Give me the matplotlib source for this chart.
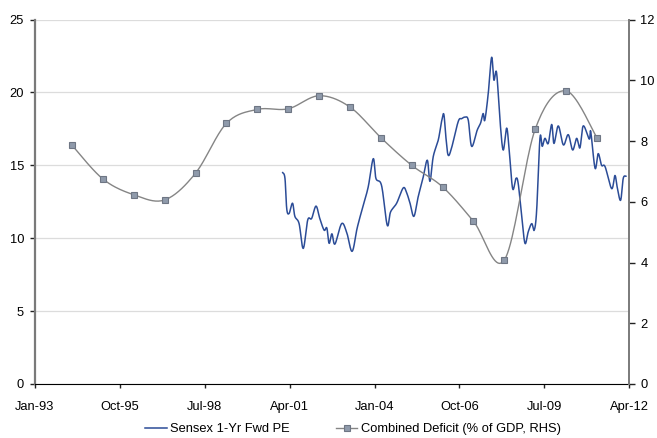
import matplotlib
matplotlib.use("Agg")
import matplotlib.pyplot as plt
import matplotlib.dates as mdates
import numpy as np
import pandas as pd

# Sensex 1-yr forward PE, turning points of the series
pe_dates = [
    "2001-01-09", "2001-02-05", "2001-02-26", "2001-03-26", "2001-05-05", "2001-06-02",
    "2001-07-22", "2001-09-09", "2001-11-01", "2001-12-17", "2002-02-07", "2002-03-24",
    "2002-05-14", "2002-06-15", "2002-07-12", "2002-08-14", "2002-09-19", "2002-12-07",
    "2003-02-05", "2003-04-10", "2003-06-09", "2003-08-12", "2003-10-17", "2003-12-16",
    "2004-01-17", "2004-03-24", "2004-05-29", "2004-07-08", "2004-09-18", "2004-12-05",
    "2005-01-15", "2005-02-23", "2005-04-10", "2005-05-31", "2005-07-22", "2005-09-15",
    "2005-10-17", "2005-11-25", "2006-01-24", "2006-03-03", "2006-03-30", "2006-04-23",
    "2006-05-20", "2006-06-30", "2006-09-16", "2006-10-27", "2006-12-05", "2007-01-13",
    "2007-02-22", "2007-04-28", "2007-06-08", "2007-07-08", "2007-07-28", "2007-09-06",
    "2007-10-16", "2007-11-12", "2007-12-14", "2008-01-23", "2008-03-01", "2008-04-11",
    "2008-05-11", "2008-06-21", "2008-07-30", "2008-08-26", "2008-10-06", "2008-11-14",
    "2008-12-23", "2009-02-02", "2009-03-03", "2009-04-01", "2009-05-10", "2009-06-06",
    "2009-07-08", "2009-08-16", "2009-09-26", "2009-10-23", "2009-12-13", "2010-02-11",
    "2010-04-10", "2010-06-01", "2010-07-18", "2010-08-26", "2010-10-04", "2010-12-14",
    "2011-01-01", "2011-02-21", "2011-03-30", "2011-05-09", "2011-06-20", "2011-09-05",
    "2011-10-14", "2011-11-10", "2011-12-20", "2012-01-20", "2012-02-21",
]
pe_values = [
    14.5, 14.1, 12.0, 11.7, 12.4, 11.5,
    11.0, 9.3, 11.25, 11.35, 12.2, 11.35,
    10.55, 10.7, 9.65, 10.3, 9.6, 11.0,
    10.4, 9.1, 10.7, 12.1, 13.5, 15.45,
    14.1, 13.6, 10.9, 11.8, 12.4, 13.45,
    13.1, 12.4, 11.5, 12.85, 14.0, 15.35,
    13.9, 15.6, 16.75, 18.0, 18.5, 16.95,
    15.7, 16.2, 18.0, 18.2, 18.3, 18.1,
    16.3, 17.4, 17.9, 18.55, 18.1, 19.9,
    22.4, 20.85, 21.35, 18.1, 16.05, 17.55,
    16.05, 13.4, 14.1, 13.75, 11.5, 9.65,
    10.45, 11.0, 10.55, 11.9, 16.85, 16.3,
    16.85, 16.5, 17.8, 16.5, 17.7, 16.4,
    17.1, 16.05, 16.85, 16.2, 17.7, 16.8,
    17.3, 14.8, 15.8, 15.0, 14.9, 13.4,
    14.3, 13.5, 12.6, 14.1, 14.25,
]

# Combined (centre + states) fiscal deficit, % of GDP, fiscal years ending March
deficit_years = list(range(1994, 2012))
deficit_values = [
    7.86, 6.75, 6.23, 6.06, 6.94, 8.58, 9.04, 9.06, 9.49,
    9.12, 8.11, 7.20, 6.49, 5.36, 4.08, 8.39, 9.65, 8.11,
]

x_ticks = ["1993-01-01", "1995-10-01", "1998-07-01", "2001-04-01",
           "2004-01-01", "2006-10-01", "2009-07-01", "2012-04-01"]


def smooth(x, y, steps=20):
    """Catmull-Rom style smoothing (Bezier segments through every point)."""
    x = np.asarray(x, float)
    y = np.asarray(y, float)
    px = np.concatenate([[x[0]], x, [x[-1]]])
    py = np.concatenate([[y[0]], y, [y[-1]]])
    t = np.linspace(0, 1, steps, endpoint=False)[:, None]
    xs, ys = [], []
    for i in range(1, len(px) - 2):
        p0 = np.array([px[i], py[i]])
        p3 = np.array([px[i + 1], py[i + 1]])
        c1 = p0 + (np.array([px[i + 1], py[i + 1]]) - np.array([px[i - 1], py[i - 1]])) / 6
        c2 = p3 - (np.array([px[i + 2], py[i + 2]]) - np.array([px[i], py[i]])) / 6
        pts = ((1 - t) ** 3) * p0 + 3 * ((1 - t) ** 2) * t * c1 + 3 * (1 - t) * t ** 2 * c2 + t ** 3 * p3
        xs.append(pts[:, 0])
        ys.append(pts[:, 1])
    xs.append([x[-1]])
    ys.append([y[-1]])
    return np.concatenate(xs), np.concatenate(ys)


plt.rcParams["font.family"] = ["Liberation Sans", "DejaVu Sans"]
plt.rcParams["font.size"] = 9.3

pe_x = mdates.date2num(pd.to_datetime(pe_dates))
def_x = mdates.date2num(pd.to_datetime([f"{y}-03-15" for y in deficit_years]))

fig = plt.figure(figsize=(6.57, 4.38), dpi=100)
ax = fig.add_axes([35 / 657, 54 / 438, 594.3 / 657, 364.5 / 438])
ax2 = ax.twinx()

blue = "#2b4c97"
grey = "#858585"

sx, sy = smooth(pe_x, pe_values)
pe_line, = ax.plot(sx, sy, color=blue, lw=1.1, label="Sensex 1-Yr Fwd PE")

dx, dy = smooth(def_x, deficit_values)
ax2.plot(dx, dy, color=grey, lw=1.0)
ax2.plot(def_x, deficit_values, ls="none", marker="s", ms=4.5,
         mfc="#8f9aab", mec="#6e7684", mew=0.8)
def_handle = plt.Line2D([], [], color=grey, lw=1.0, marker="s", ms=4.2,
                        mfc="#8f9aab", mec="#6e7684", mew=0.8,
                        label="Combined Deficit (% of GDP, RHS)")

ax.set_ylim(0, 25)
ax.set_yticks(range(0, 26, 5))
ax2.set_ylim(0, 12)
ax2.set_yticks(range(0, 13, 2))

ticks = mdates.date2num(pd.to_datetime(x_ticks))
ax.set_xlim(ticks[0], ticks[-1])
ax.set_xticks(ticks)
ax.xaxis.set_major_formatter(mdates.DateFormatter("%b-%y"))

ax.yaxis.grid(True, color="#dcdcdc", lw=0.9)
ax.set_axisbelow(True)

for a in (ax, ax2):
    a.spines["top"].set_visible(False)
    a.tick_params(direction="out", width=1, colors="#222222", labelcolor="black")
ax.spines["left"].set_color("#7a7a7a")
ax.spines["left"].set_linewidth(1.6)
ax.spines["bottom"].set_color("black")
ax.spines["right"].set_visible(False)
ax2.spines["left"].set_visible(False)
ax2.spines["bottom"].set_visible(False)
ax2.spines["right"].set_color("#7a7a7a")
ax2.spines["right"].set_linewidth(1.4)
ax.tick_params(axis="y", length=3.6, pad=4.3)
ax.tick_params(axis="x", length=3, pad=9.5)
ax2.tick_params(axis="y", length=4, pad=4)

fig.legend(handles=[pe_line, def_handle], loc="center", ncol=2, frameon=False,
           bbox_to_anchor=(353 / 657, 1 - 429 / 438), handlelength=1.65,
           handletextpad=0.25, columnspacing=3.6, borderpad=0.2)

fig.savefig("out.png", dpi=100)
